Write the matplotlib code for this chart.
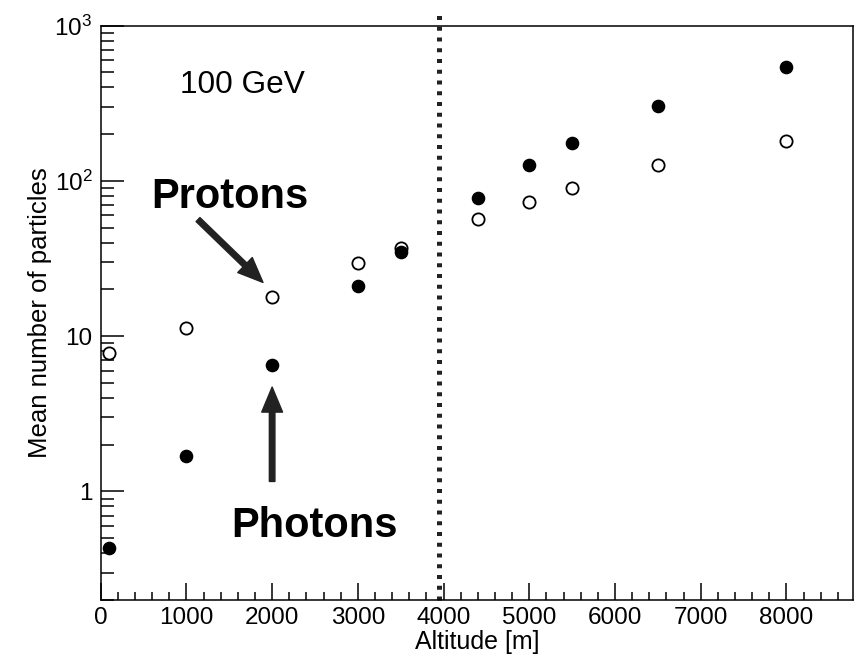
import matplotlib
matplotlib.use("Agg")
import matplotlib.pyplot as plt
from matplotlib.ticker import FixedLocator, FixedFormatter, LogLocator, MultipleLocator, NullFormatter

# Шрифти в стилі ROOT (Helvetica -> Liberation Sans)
plt.rcParams["font.family"] = ["Liberation Sans", "DejaVu Sans"]
plt.rcParams["mathtext.fontset"] = "custom"
plt.rcParams["mathtext.rm"] = "Liberation Sans"

# Дані
altitude = [100, 1000, 2000, 3000, 3500, 4400, 5000, 5500, 6500, 8000]
protons = [7.8, 11.3, 17.8, 29.4, 37.2, 56.8, 73.7, 90.0, 126.0, 181.0]
photons = [0.43, 1.68, 6.5, 20.9, 35.1, 78.2, 126.7, 175.0, 306.0, 541.0]

y_ticks = [1, 10, 100, 1000]
y_tick_labels = ["1", "10", r"$\mathregular{10^{2}}$", r"$\mathregular{10^{3}}$"]
x_ticks = [0, 1000, 2000, 3000, 4000, 5000, 6000, 7000, 8000]

fig = plt.figure(figsize=(8.66, 6.62), dpi=100)
ax = fig.add_axes([0.1163, 0.0937, 0.9853 - 0.1163, 0.9612 - 0.0937])

# Маркери: відкриті - протони, заповнені - фотони
ax.plot(altitude, protons, "o", ms=8.8, mfc="white", mec="black", mew=1.3, ls="none", zorder=3)
ax.plot(altitude, photons, "o", ms=8.8, mfc="black", mec="black", ls="none", zorder=4)

ax.set_yscale("log")
ax.set_xlim(0, 8780)
ax.set_ylim(0.2, 1000)

# Вертикальна пунктирна лінія
ax.plot([3950, 3950], [0.2, 1250], color="#222222", lw=3.6, ls=(0, (0.8, 1.35)),
        dash_capstyle="butt", clip_on=False, zorder=2)

# Осі та поділки
ax.xaxis.set_major_locator(FixedLocator(x_ticks))
ax.xaxis.set_minor_locator(MultipleLocator(200))
ax.yaxis.set_major_locator(FixedLocator(y_ticks))
ax.yaxis.set_major_formatter(FixedFormatter(y_tick_labels))
ax.yaxis.set_minor_locator(LogLocator(base=10, subs=range(2, 10)))
ax.yaxis.set_minor_formatter(NullFormatter())

ax.tick_params(axis="both", which="both", direction="in", top=False, right=False, width=1.1, labelsize=17.5)
ax.tick_params(axis="x", which="major", length=12, pad=5)
ax.tick_params(axis="x", which="minor", length=6)
ax.tick_params(axis="y", which="major", length=16.5, pad=6)
ax.tick_params(axis="y", which="minor", length=9.4)
for s in ax.spines.values():
    s.set_linewidth(1.1)

ax.set_xlabel("Altitude [m]", fontsize=18, labelpad=1)
ax.set_ylabel("Mean number of particles", fontsize=18.5, labelpad=2)

# Підписи та стрілки
ax.text(930, 371, "100 GeV", fontsize=22.8, va="baseline", ha="left")
ax.text(590, 67.4, "Protons", fontsize=30, fontweight="bold", va="baseline", ha="left")
ax.text(1520, 0.506, "Photons", fontsize=30, fontweight="bold", va="baseline", ha="left")

arrow_kw = dict(facecolor="#222222", edgecolor="#222222", width=4, headwidth=15, headlength=18, shrink=0)
ax.annotate("", xy=(1893, 22.2), xytext=(1135, 56.4), arrowprops=arrow_kw)
ax.annotate("", xy=(2000, 4.7), xytext=(2000, 1.16), arrowprops=arrow_kw)

plt.savefig("out.png", dpi=100)
plt.close()
